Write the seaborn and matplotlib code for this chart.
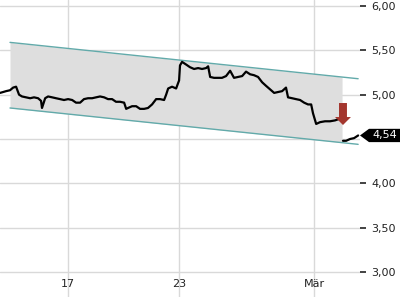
import numpy as np
import pandas as pd
import matplotlib
matplotlib.use("Agg")
import matplotlib.pyplot as plt
import seaborn as sns
from matplotlib.ticker import FuncFormatter, FixedLocator
from matplotlib.patches import Polygon, FancyArrow

# ---- data ----
days = [13.32, 13.49, 13.65, 13.86, 14.03, 14.19, 14.35, 14.51, 14.73, 14.95,
        15.16, 15.38, 15.54, 15.59, 15.70, 15.76, 15.92, 16.14, 16.35, 16.57,
        16.78, 17.00, 17.22, 17.43, 17.65, 17.86, 18.08, 18.30, 18.51, 18.73,
        18.95, 19.16, 19.38, 19.59, 19.81, 20.03, 20.14, 20.24, 20.46, 20.68,
        20.89, 21.11, 21.32, 21.54, 21.76, 21.97, 22.19, 22.30, 22.41, 22.62,
        22.84, 23.00, 23.05, 23.16, 23.38, 23.59, 23.81, 24.03, 24.24, 24.46,
        24.57, 24.68, 24.89, 25.11, 25.32, 25.54, 25.76, 25.97, 26.19, 26.41,
        26.62, 26.84, 27.05, 27.27, 27.49, 27.70, 27.92, 28.14, 28.35, 28.57,
        28.78, 28.89, 29.11, 29.32, 29.54, 29.76, 29.97, 30.14, 30.24, 30.41,
        30.62, 30.89, 31.16, 31.43, 31.70,
        31.86, 32.03, 32.24, 32.46, 32.68]
prices = [5.02, 5.03, 5.04, 5.05, 5.08, 5.09, 5.00, 4.98, 4.97, 4.96,
          4.97, 4.96, 4.93, 4.85, 4.92, 4.96, 4.98, 4.97, 4.96, 4.95,
          4.94, 4.95, 4.94, 4.91, 4.91, 4.95, 4.96, 4.96, 4.97, 4.98,
          4.97, 4.95, 4.95, 4.92, 4.92, 4.91, 4.84, 4.85, 4.87, 4.87,
          4.84, 4.84, 4.85, 4.89, 4.95, 4.95, 4.94, 5.00, 5.07, 5.09,
          5.07, 5.16, 5.33, 5.37, 5.34, 5.31, 5.29, 5.30, 5.29, 5.30,
          5.32, 5.20, 5.19, 5.19, 5.19, 5.21, 5.27, 5.19, 5.20, 5.21,
          5.26, 5.23, 5.22, 5.20, 5.14, 5.10, 5.06, 5.02, 5.03, 5.04,
          5.08, 4.97, 4.96, 4.95, 4.94, 4.91, 4.89, 4.89, 4.79, 4.67,
          4.69, 4.70, 4.70, 4.71, 4.73,
          4.48, 4.48, 4.50, 4.51, 4.54]
segment = [0] * 95 + [1] * 5

channel_days = [13.86, 32.68]
channel_upper = [5.59, 5.18]
channel_lower = [4.85, 4.44]
fill_end_day = 31.81

signal_day = 31.86
signal_top = 4.906
signal_tip = 4.658

last_price = 4.54
ytick_values = [3.0, 3.5, 4.0, 4.5, 5.0, 5.5, 6.0]
ytick_labeled = [3.0, 3.5, 4.0, 5.0, 5.5, 6.0]
xtick_pos = [17, 23, 30.30]
xtick_labels = ["17", "23", "Mär"]

# ---- plot ----
sns.set_style("white")
plt.rcParams["font.family"] = ["DejaVu Sans"]

fig = plt.figure(figsize=(4, 3), dpi=100)
ax = fig.add_axes([0, 0.01, 0.9, 0.99])

ax.set_xlim(13.32, 32.78)
ax.set_ylim(2.718, 6.068)

for v in ytick_values:
    ax.axhline(v, color="#d9d9d9", lw=1.0, zorder=0)
for v in xtick_pos:
    ax.axvline(v, color="#d9d9d9", lw=1.0, zorder=0)

# channel
cu = np.interp(fill_end_day, channel_days, channel_upper)
cl = np.interp(fill_end_day, channel_days, channel_lower)
ax.fill_between([channel_days[0], fill_end_day], [channel_upper[0], cu],
                [channel_lower[0], cl], color="#dedede", lw=0, zorder=1)
ax.plot(channel_days, channel_upper, color="#62aaaa", lw=1.0, zorder=2)
ax.plot(channel_days, channel_lower, color="#62aaaa", lw=1.0, zorder=2)

df = pd.DataFrame({"day": days, "price": prices, "seg": segment})
sns.lineplot(data=df, x="day", y="price", units="seg", estimator=None,
             color="black", lw=1.6, ax=ax, zorder=3, sort=False)

# signal arrow
ax.add_patch(FancyArrow(signal_day, signal_top, 0, signal_tip - signal_top,
                        width=0.43, head_width=0.86, head_length=0.09,
                        length_includes_head=True, color="#a3362e", lw=0,
                        zorder=4))

# last price tag
tr = ax.get_yaxis_transform()
h = 0.075
poly = Polygon([(1.0, last_price), (1.025, last_price + h), (1.12, last_price + h),
                (1.12, last_price - h), (1.025, last_price - h)],
               closed=True, transform=tr, facecolor="black", edgecolor="none",
               clip_on=False, zorder=10)
ax.add_patch(poly)
ax.text(1.068, last_price, "4,54", transform=tr, color="white", fontsize=8,
        ha="center", va="center", clip_on=False, zorder=11)

# axes styling
for s in ax.spines.values():
    s.set_visible(False)
ax.set_xlabel("")
ax.set_ylabel("")
ax.yaxis.tick_right()
ax.yaxis.set_major_locator(FixedLocator(ytick_labeled))
ax.yaxis.set_major_formatter(FuncFormatter(lambda v, p: f"{v:.2f}".replace(".", ",")))
ax.tick_params(axis="y", which="major", direction="out", length=4, width=1.2,
               color="#222222", labelcolor="#222222", labelsize=8, pad=4)
ax.set_xticks(xtick_pos)
ax.set_xticklabels(xtick_labels)
ax.tick_params(axis="x", which="major", direction="in", length=3, width=1,
               color="#222222", labelcolor="#222222", labelsize=8, pad=-13)

fig.savefig("out.png", dpi=100)
